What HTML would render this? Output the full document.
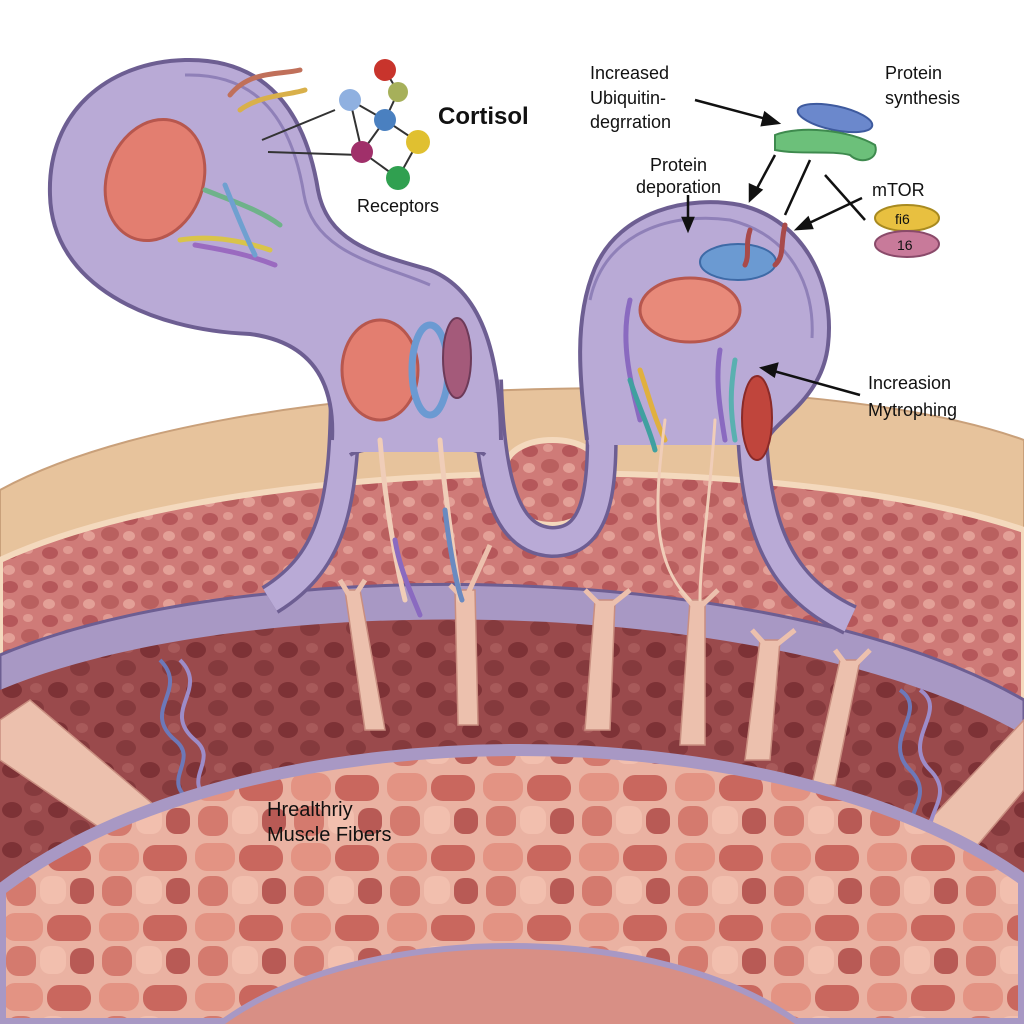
<!DOCTYPE html>
<html><head><style>
html,body{margin:0;padding:0;background:#fff;}
svg{display:block;}
text{font-family:"Liberation Sans",sans-serif;fill:#111;}
</style></head><body>
<svg width="1024" height="1024" viewBox="0 0 1024 1024" xmlns="http://www.w3.org/2000/svg">
<defs>
<pattern id="cells" width="40" height="34" patternUnits="userSpaceOnUse">
<rect width="40" height="34" fill="#cf7b78"/>
<ellipse cx="10" cy="9" rx="8" ry="6" fill="#b5575a"/>
<ellipse cx="30" cy="24" rx="9" ry="7" fill="#b9605f"/>
<ellipse cx="28" cy="6" rx="5" ry="4" fill="#e09a92"/>
<ellipse cx="9" cy="26" rx="6" ry="5" fill="#e3a097"/>
</pattern>
<pattern id="dark" width="46" height="40" patternUnits="userSpaceOnUse">
<rect width="46" height="40" fill="#9a4a4c"/>
<ellipse cx="12" cy="10" rx="10" ry="8" fill="#7d3236"/>
<ellipse cx="34" cy="28" rx="10" ry="8" fill="#853a3d"/>
<ellipse cx="36" cy="8" rx="6" ry="5" fill="#a85a5a"/>
</pattern>
<pattern id="mosaic" width="96" height="70" patternUnits="userSpaceOnUse">
<rect width="96" height="70" fill="#eab2a2"/>
<rect x="3" y="3" width="40" height="28" rx="12" fill="#e39383"/>
<rect x="47" y="5" width="44" height="26" rx="12" fill="#c9675e"/>
<rect x="6" y="36" width="30" height="30" rx="12" fill="#d47a6e"/>
<rect x="40" y="36" width="26" height="28" rx="10" fill="#f2bfae"/>
<rect x="70" y="38" width="24" height="26" rx="10" fill="#b85a55"/>
</pattern>
</defs>

<path d="M0,490 C220,370 800,360 1024,440 L1024,1024 L0,1024 Z" fill="#e7c39c" stroke="#c9a07a" stroke-width="2"/>
<path d="M0,560 C240,450 790,450 1024,530 L1024,1024 L0,1024 Z" fill="url(#cells)" stroke="#f4d9bd" stroke-width="6"/>
<path d="M0,655 C250,550 780,560 1024,700 L1024,1024 L0,1024 Z" fill="#a898c4" stroke="#6d5e92" stroke-width="3"/>
<path d="M0,690 C250,585 780,595 1024,735 L1024,1024 L0,1024 Z" fill="url(#dark)"/>

<g fill="#ecc0ad" stroke="#c98e80" stroke-width="1.5">
<path d="M0,720 L30,700 L160,810 L125,845 L0,760 Z"/>
<path d="M920,830 L1024,720 L1024,790 L965,860 Z"/>
<path d="M345,590 L360,590 L385,730 L365,730 Z"/>
<path d="M455,590 L475,590 L478,725 L458,725 Z"/>
<path d="M595,600 L615,600 L610,730 L585,730 Z"/>
<path d="M690,600 L705,600 L705,745 L680,745 Z"/>
<path d="M760,640 L780,640 L770,760 L745,760 Z"/>
<path d="M840,660 L860,660 L835,785 L812,785 Z"/>
</g>
<g fill="none" stroke="#ecc0ad" stroke-width="5">
<path d="M340,580 L352,600 L365,580"/><path d="M450,585 L465,600 L490,545"/>
<path d="M585,590 L605,610 L630,590"/><path d="M680,590 L697,610 L718,590"/>
<path d="M752,630 L770,650 L795,630"/><path d="M835,650 L850,670 L870,650"/>
</g>
<g fill="none" stroke-width="4">
<path d="M160,660 C190,690 140,710 175,740 C200,760 160,780 190,800" stroke="#6d78b8"/>
<path d="M180,660 C210,690 160,710 195,740 C220,760 180,780 210,800" stroke="#9d8cc8"/>
<path d="M900,690 C930,710 880,740 910,770 C940,800 890,820 920,850" stroke="#6d78b8"/>
<path d="M920,690 C950,710 900,740 930,770 C960,800 910,820 940,850" stroke="#9d8cc8"/>
</g>

<path d="M0,890 C240,705 780,705 1024,880 L1024,1024 L0,1024 Z" fill="url(#mosaic)" stroke="#a898c4" stroke-width="12"/>
<path d="M220,1024 C360,920 660,920 800,1024" fill="#d88f85" stroke="#a898c4" stroke-width="6"/>

<path d="M505,470 C505,430 600,430 600,470 C600,510 575,525 552,525 C525,525 505,510 505,470 Z" fill="url(#cells)" stroke="#f4d9bd" stroke-width="6"/>

<!-- membranes (necks) -->
<g fill="none">
<path d="M345,380 C345,500 335,560 270,600" stroke="#6d5e92" stroke-width="32"/>
<path d="M345,380 C345,500 335,560 270,600" stroke="#b9aad6" stroke-width="25"/>
<path d="M487,380 C490,480 505,540 552,542 C602,542 605,480 600,380" stroke="#6d5e92" stroke-width="32"/>
<path d="M487,380 C490,480 505,540 552,542 C602,542 605,480 600,380" stroke="#b9aad6" stroke-width="25"/>
<path d="M752,380 C748,520 775,585 850,620" stroke="#6d5e92" stroke-width="32"/>
<path d="M752,380 C748,520 775,585 850,620" stroke="#b9aad6" stroke-width="25"/>
<path d="M350,455 C370,442 470,442 485,455" stroke="#6d5e92" stroke-width="4"/>
</g>
<!-- lobes fills -->
<path d="M185,60 C265,58 305,110 318,190 C328,245 380,255 430,270 C480,290 500,350 500,452 L333,452 C335,380 310,342 250,334 C150,330 52,285 50,195 C47,110 110,62 185,60 Z" fill="#b9aad6"/>
<path d="M589,445 C580,380 573,320 595,268 C620,210 690,195 740,205 C805,220 835,285 828,345 C822,400 775,420 765,445 Z" fill="#b9aad6"/>
<!-- lobe outlines -->
<path d="M332,440 C335,380 310,342 250,334 C150,330 52,285 50,195 C47,110 110,62 185,60 C265,58 305,110 318,190 C328,245 380,255 430,270 C480,290 500,350 501,440" fill="none" stroke="#6d5e92" stroke-width="4"/>
<path d="M587,440 C580,380 573,320 595,268 C620,210 690,195 740,205 C805,220 835,285 828,345 C822,400 775,420 767,440" fill="none" stroke="#6d5e92" stroke-width="4"/>
<path d="M185,75 C258,73 292,120 304,195 C314,255 385,265 430,285" fill="none" stroke="#8f80b8" stroke-width="3"/>
<path d="M590,300 C605,230 675,212 730,220 C790,235 815,285 812,338" fill="none" stroke="#8f80b8" stroke-width="3"/>
<!-- nuclei -->
<ellipse cx="155" cy="180" rx="48" ry="62" transform="rotate(20 155 180)" fill="#e37e70" stroke="#b7574e" stroke-width="3"/>
<ellipse cx="380" cy="370" rx="38" ry="50" fill="#e37e70" stroke="#b7574e" stroke-width="3"/>
<ellipse cx="690" cy="310" rx="50" ry="32" fill="#e88a7a" stroke="#b7574e" stroke-width="3"/>
<ellipse cx="430" cy="370" rx="18" ry="45" fill="none" stroke="#6b9ad2" stroke-width="7"/>
<ellipse cx="457" cy="358" rx="14" ry="40" fill="#a45a7a" stroke="#6d3a58" stroke-width="2"/>
<ellipse cx="757" cy="418" rx="15" ry="42" fill="#c0453c" stroke="#8a2a28" stroke-width="2"/>
<ellipse cx="738" cy="262" rx="38" ry="18" fill="#6b9ad2" stroke="#3e6aa6" stroke-width="2"/>
<g fill="none" stroke-width="5" stroke-linecap="round">
<path d="M230,95 C250,70 280,75 300,70" stroke="#c0705a"/>
<path d="M240,110 C260,95 290,95 305,90" stroke="#d9b04a"/>
<path d="M205,190 C230,200 260,210 280,225" stroke="#6fb28a"/>
<path d="M180,240 C210,235 240,240 270,250" stroke="#d9c44a"/>
<path d="M195,245 C225,250 250,255 275,265" stroke="#9a6ac0"/>
<path d="M225,185 C235,210 245,235 255,255" stroke="#6fa0d0"/>
<path d="M630,300 C620,340 630,380 640,420" stroke="#8a6ac0"/>
<path d="M640,370 C650,400 655,420 665,440" stroke="#e0b040"/>
<path d="M630,380 C640,410 650,430 655,450" stroke="#40a0a0"/>
<path d="M720,350 C715,380 720,410 725,440" stroke="#8a6ac0"/>
<path d="M735,360 C730,390 730,410 735,440" stroke="#5ab0b0"/>
<path d="M750,230 C745,245 750,255 745,265" stroke="#a84a4a"/>
<path d="M785,225 C780,245 785,255 775,265" stroke="#a84a4a"/>
<path d="M380,440 C385,500 395,560 405,600" stroke="#f0cdb8"/>
<path d="M440,440 C445,500 455,560 460,600" stroke="#f0cdb8"/>
<path d="M395,540 C400,570 410,590 420,615" stroke="#8a6ac0"/>
<path d="M445,510 C450,550 455,580 462,600" stroke="#6a8ac0"/>
<path d="M665,420 C655,500 650,560 690,600" stroke="#f0cdb8" stroke-width="3"/>
<path d="M715,420 C710,500 700,560 700,600" stroke="#f0cdb8" stroke-width="3"/>
</g>
<g stroke="#333" stroke-width="2" fill="none">
<path d="M350,100 L385,120 L398,92 L385,70 M385,120 L418,142 L398,178 L362,152 L350,100 M362,152 L385,120"/>
<path d="M262,140 L335,110 M268,152 L360,155"/>
</g>
<circle cx="385" cy="70" r="11" fill="#c8342c"/>
<circle cx="398" cy="92" r="10" fill="#a6b05a"/>
<circle cx="350" cy="100" r="11" fill="#8fb0e0"/>
<circle cx="385" cy="120" r="11" fill="#4a80c0"/>
<circle cx="418" cy="142" r="12" fill="#e0c030"/>
<circle cx="362" cy="152" r="11" fill="#a0306a"/>
<circle cx="398" cy="178" r="12" fill="#30a050"/>
<ellipse cx="835" cy="118" rx="38" ry="12" transform="rotate(12 835 118)" fill="#6b88cc" stroke="#3e5a9e" stroke-width="2"/>
<path d="M775,135 C800,125 850,130 875,145 C880,160 860,165 850,155 C830,150 800,155 775,150 Z" fill="#6cc07a" stroke="#3e8a4e" stroke-width="2"/>
<ellipse cx="907" cy="218" rx="32" ry="13" fill="#e8c040" stroke="#a88a20" stroke-width="2"/>
<ellipse cx="907" cy="244" rx="32" ry="13" fill="#c87a9a" stroke="#8a4a6a" stroke-width="2"/>
<text x="895" y="224" font-size="14">fi6</text>
<text x="897" y="250" font-size="14">16</text>
<g stroke="#111" stroke-width="2.5" fill="#111">
<line x1="695" y1="100" x2="770" y2="120"/><polygon points="778,123 762,125 765,113"/>
<line x1="775" y1="155" x2="755" y2="192"/><polygon points="750,200 750,185 761,190"/>
<line x1="810" y1="160" x2="785" y2="215"/>
<line x1="825" y1="175" x2="865" y2="220"/>
<line x1="862" y1="198" x2="805" y2="225"/><polygon points="797,229 808,218 812,228"/>
<line x1="688" y1="195" x2="688" y2="222"/><polygon points="688,230 683,218 693,218"/>
<line x1="860" y1="395" x2="770" y2="370"/><polygon points="762,368 777,364 774,376"/>
</g>
<text x="438" y="124" font-size="24" font-weight="bold">Cortisol</text>
<text x="357" y="212" font-size="18">Receptors</text>
<text x="590" y="79" font-size="18">Increased</text>
<text x="590" y="104" font-size="18">Ubiquitin-</text>
<text x="590" y="128" font-size="18">degrration</text>
<text x="885" y="79" font-size="18">Protein</text>
<text x="885" y="104" font-size="18">synthesis</text>
<text x="650" y="171" font-size="18">Protein</text>
<text x="636" y="193" font-size="18">deporation</text>
<text x="872" y="196" font-size="18">mTOR</text>
<text x="868" y="389" font-size="18">Increasion</text>
<text x="868" y="416" font-size="18">Mytrophing</text>
<text x="267" y="816" font-size="20">Hrealthriy</text>
<text x="267" y="841" font-size="20">Muscle Fibers</text>
</svg>
</body></html>
